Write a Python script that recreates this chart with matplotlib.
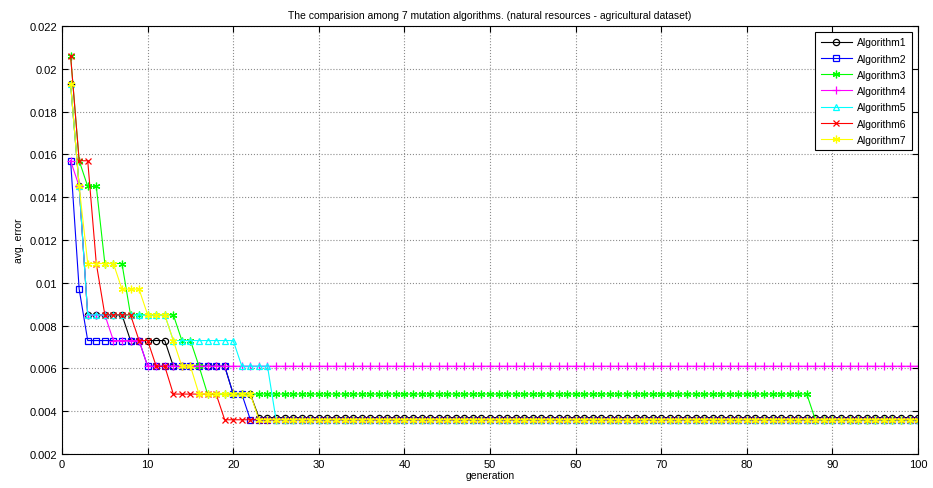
import numpy as np
import matplotlib
matplotlib.use("Agg")
import matplotlib.pyplot as plt

plt.rcParams["font.family"] = ["Liberation Sans Narrow", "Liberation Sans", "DejaVu Sans"]

generations = np.arange(1, 101)

# step values: generation where each level starts, and the level
alg1_starts = [1, 2, 3, 8, 13, 20, 23]
alg1_vals = [0.0193, 0.0145, 0.0085, 0.0073, 0.0061, 0.0048, 0.0037]
alg2_starts = [1, 2, 3, 10, 20, 22]
alg2_vals = [0.0157, 0.0097, 0.0073, 0.0061, 0.0048, 0.0036]
alg3_starts = [1, 2, 3, 5, 8, 14, 16, 17, 88]
alg3_vals = [0.0206, 0.0157, 0.0145, 0.0109, 0.0085, 0.0073, 0.0061, 0.0048, 0.0036]
alg4_starts = [1, 2, 3, 6, 10]
alg4_vals = [0.0157, 0.0145, 0.0085, 0.0073, 0.0061]
alg5_starts = [1, 2, 3, 13, 21, 25]
alg5_vals = [0.0193, 0.0145, 0.0085, 0.0073, 0.0061, 0.0036]
alg6_starts = [1, 2, 4, 5, 9, 11, 13, 19]
alg6_vals = [0.0206, 0.0157, 0.0109, 0.0085, 0.0073, 0.0061, 0.0048, 0.0036]
alg7_starts = [1, 2, 3, 7, 10, 13, 14, 16, 23]
alg7_vals = [0.0193, 0.0145, 0.0109, 0.0097, 0.0085, 0.0073, 0.0061, 0.0048, 0.0036]

names = ["Algorithm1", "Algorithm2", "Algorithm3", "Algorithm4",
         "Algorithm5", "Algorithm6", "Algorithm7"]
y_ticks = [0.002, 0.004, 0.006, 0.008, 0.01, 0.012, 0.014, 0.016, 0.018, 0.02, 0.022]
y_labels = ["0.002", "0.004", "0.006", "0.008", "0.01", "0.012", "0.014",
            "0.016", "0.018", "0.02", "0.022"]


def expand(starts, vals):
    counts = np.diff(starts + [generations[-1] + 1])
    return np.repeat(vals, counts)


asterisk = (6, 2, 0)
series = [
    (alg1_starts, alg1_vals, "k", "o", 4.5),
    (alg2_starts, alg2_vals, "b", "s", 4.5),
    (alg3_starts, alg3_vals, (0, 1, 0), asterisk, 5.5),
    (alg4_starts, alg4_vals, (1, 0, 1), "+", 5.5),
    (alg5_starts, alg5_vals, (0, 1, 1), "^", 4.5),
    (alg6_starts, alg6_vals, "r", "x", 4),
    (alg7_starts, alg7_vals, (1, 1, 0), asterisk, 5.5),
]

fig = plt.figure(figsize=(9.33, 4.89), dpi=100)
ax = fig.add_axes([0.0665, 0.0695, 0.9175, 0.8755])

for (starts, vals, color, marker, ms), name in zip(series, names):
    ax.plot(generations, expand(starts, vals), color=color, marker=marker,
            markersize=ms, linewidth=0.8, markeredgewidth=0.9,
            markerfacecolor="none", label=name)

ax.set_xlim(0, 100)
ax.set_ylim(0.002, 0.022)
ax.set_xticks(range(0, 101, 10))
ax.set_yticks(y_ticks)
ax.set_yticklabels(y_labels)
ax.tick_params(direction="in", labelsize=8, length=4, top=True, right=True)
ax.grid(True, linestyle=":", color="0.55", linewidth=0.8)

ax.set_title("The comparision among 7 mutation algorithms. (natural resources - agricultural dataset)",
             fontsize=7.5, pad=6)
ax.set_xlabel("generation", fontsize=7.5, labelpad=1)
ax.set_ylabel("avg. error", fontsize=7.5, labelpad=4)

leg = ax.legend(loc="upper right", fontsize=7.5, fancybox=False, framealpha=1,
                edgecolor="k", borderaxespad=0.6, handlelength=3.0,
                handletextpad=0.5, labelspacing=0.6, borderpad=0.5)
leg.get_frame().set_linewidth(0.8)

fig.savefig("out.png", dpi=100)
